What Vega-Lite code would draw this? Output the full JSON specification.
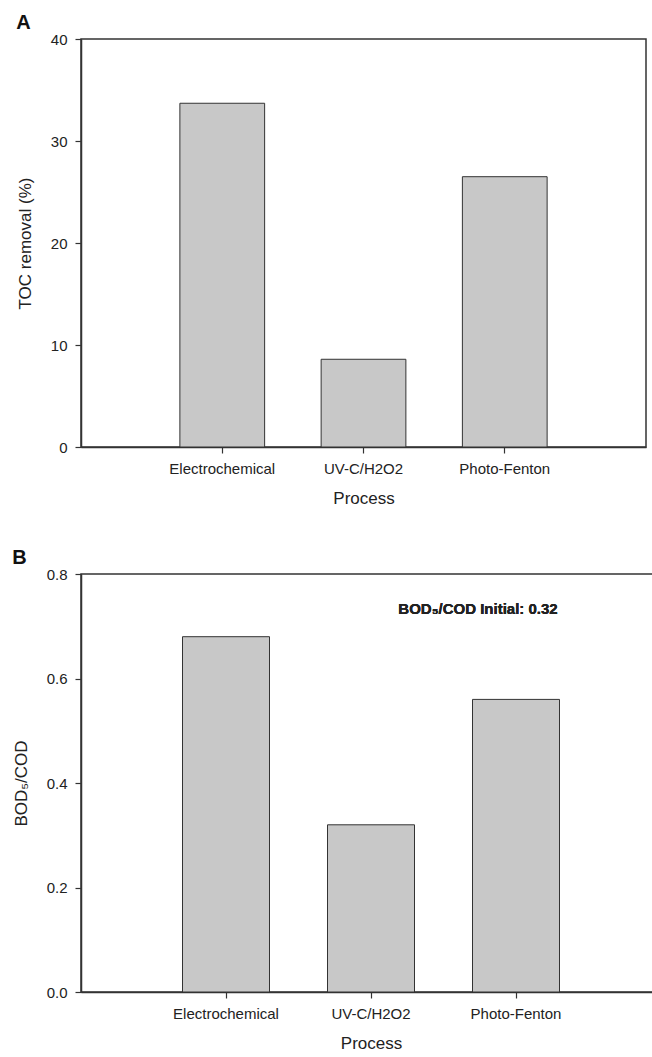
{
  "$schema": "https://vega.github.io/schema/vega-lite/v6.json",
  "padding": {"left": 11, "top": 12, "right": 0, "bottom": 0},
  "spacing": 40,
  "config": {
    "font": "Liberation Sans",
    "view": {"stroke": "#333333", "strokeWidth": 1.5},
    "axis": {
      "labelFontSize": 15,
      "titleFontSize": 17,
      "titleFontWeight": "normal",
      "labelColor": "#222222",
      "titleColor": "#222222",
      "domainColor": "#333333",
      "domainWidth": 1.5,
      "tickColor": "#333333",
      "tickWidth": 1.2,
      "tickSize": 6,
      "grid": false
    },
    "title": {"fontSize": 20, "fontWeight": "bold", "anchor": "start", "frame": "bounds", "offset": -1, "color": "#111111"}
  },
  "vconcat": [
    {
      "title": "A",
      "width": 565,
      "height": 408,
      "data": {"values": [
        {"process": "Electrochemical", "toc": 33.7},
        {"process": "UV-C/H2O2", "toc": 8.6},
        {"process": "Photo-Fenton", "toc": 26.5}
      ]},
      "mark": {"type": "bar", "fill": "#c8c8c8", "stroke": "#333333", "strokeWidth": 1},
      "encoding": {
        "x": {
          "field": "process", "type": "nominal", "sort": null,
          "scale": {"paddingInner": 0.4, "paddingOuter": 0.7},
          "axis": {"labelAngle": 0, "title": "Process", "labelPadding": 8, "titlePadding": 14}
        },
        "y": {
          "field": "toc", "type": "quantitative",
          "scale": {"domain": [0, 40], "nice": false},
          "axis": {"values": [0, 10, 20, 30, 40], "title": "TOC removal (%)", "labelPadding": 8, "titlePadding": 16}
        }
      }
    },
    {
      "title": "B",
      "width": 580,
      "height": 418,
      "data": {"values": [
        {"process": "Electrochemical", "ratio": 0.68},
        {"process": "UV-C/H2O2", "ratio": 0.32},
        {"process": "Photo-Fenton", "ratio": 0.56}
      ]},
      "layer": [
        {
          "mark": {"type": "bar", "fill": "#c8c8c8", "stroke": "#333333", "strokeWidth": 1},
          "encoding": {
            "x": {
              "field": "process", "type": "nominal", "sort": null,
              "scale": {"paddingInner": 0.4, "paddingOuter": 0.7},
              "axis": {"labelAngle": 0, "title": "Process", "labelPadding": 8, "titlePadding": 14}
            },
            "y": {
              "field": "ratio", "type": "quantitative",
              "scale": {"domain": [0, 0.8], "nice": false},
              "axis": {"values": [0, 0.2, 0.4, 0.6, 0.8], "format": ".1f", "title": "BOD₅/COD", "labelPadding": 8, "titlePadding": 16}
            }
          }
        },
        {
          "mark": {"type": "text", "fontWeight": "bold", "fontSize": 15, "align": "center", "dx": -38, "color": "#222222"},
          "encoding": {
            "x": {"datum": "Photo-Fenton"},
            "y": {"datum": 0.733},
            "text": {"value": "BOD₅/COD Initial: 0.32"}
          }
        }
      ]
    }
  ]
}
